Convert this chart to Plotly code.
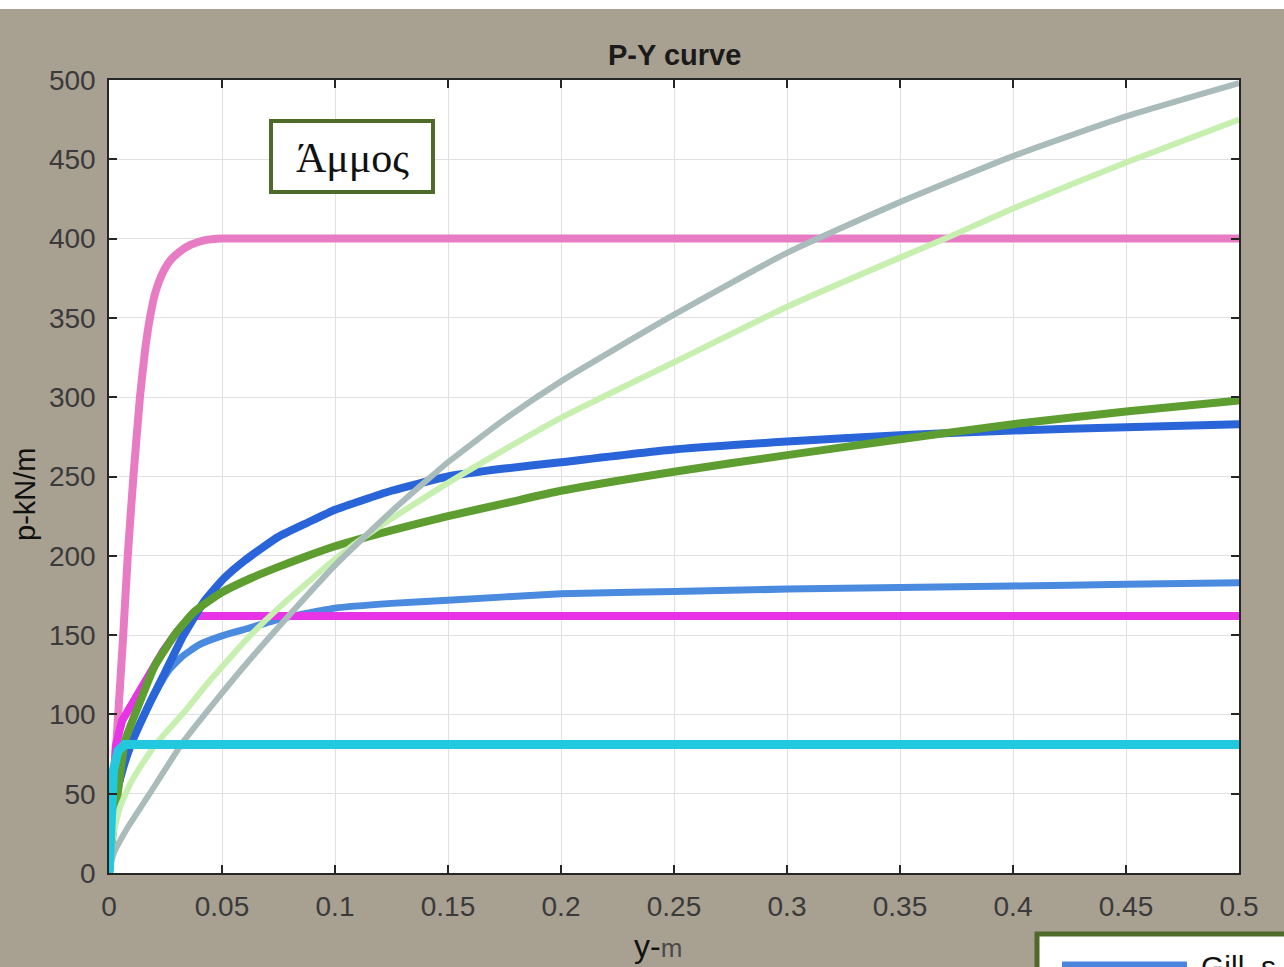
import plotly.graph_objects as go

# ---- p-y curves: displacement y (m) and soil resistance p (kN/m) ----
pink_y = [0, 0.0015, 0.0034, 0.0063, 0.0083, 0.0108, 0.0137, 0.0160, 0.0181, 0.0205,
          0.0233, 0.0270, 0.0306, 0.0360, 0.0425, 0.05, 0.07, 0.1, 0.2, 0.3, 0.4, 0.5]
pink_p = [0, 40, 85, 150, 200, 250, 300, 330, 350, 366,
          377, 386, 391, 396, 399, 400, 400, 400, 400, 400, 400, 400]

magenta_y = [0, 0.0015, 0.003, 0.0058, 0.009, 0.013, 0.018, 0.024, 0.030, 0.035, 0.038,
             0.1, 0.2, 0.3, 0.4, 0.5]
magenta_p = [0, 50, 80, 96, 104, 112, 125, 140, 152, 159, 162,
             162, 162, 162, 162, 162]

cyan_y = [0, 0.0008, 0.002, 0.004, 0.007, 0.1, 0.2, 0.3, 0.4, 0.5]
cyan_p = [0, 40, 65, 77, 81, 81, 81, 81, 81, 81]

darkblue_y = [0, 0.0027, 0.006, 0.010, 0.018, 0.025, 0.033, 0.0425, 0.051, 0.06, 0.075,
              0.088, 0.1, 0.125, 0.15, 0.175, 0.2, 0.25, 0.3, 0.35, 0.4, 0.45, 0.5]
darkblue_p = [0, 45, 65, 82, 107, 127, 150, 172, 186, 197, 212,
              221, 229, 241, 250, 255, 259, 267, 272, 276, 279, 281, 283]

lightblue_y = [0, 0.0027, 0.006, 0.010, 0.018, 0.026, 0.032, 0.04, 0.051, 0.061, 0.075,
               0.1, 0.125, 0.15, 0.2, 0.25, 0.3, 0.35, 0.4, 0.45, 0.5]
lightblue_p = [0, 45, 65, 82, 107, 127, 136, 144, 150, 154, 160,
               167, 170, 172, 176, 177.5, 179, 180, 181, 182, 183]

green_y = [0, 0.002, 0.0035, 0.0071, 0.014, 0.0204, 0.03, 0.038, 0.05, 0.063, 0.075, 0.088,
           0.1, 0.125, 0.15, 0.175, 0.2, 0.25, 0.3, 0.35, 0.4, 0.45, 0.5]
green_p = [0, 30, 46, 83, 109, 131, 152, 165, 177, 186, 193, 200,
           206, 216, 225, 233, 241, 253, 263.5, 273.5, 283, 291, 298]

lightgreen_y = [0, 0.002, 0.005, 0.01, 0.02, 0.033, 0.045, 0.055, 0.062, 0.075, 0.1,
                0.117, 0.15, 0.175, 0.2, 0.25, 0.3, 0.35, 0.37, 0.4, 0.45, 0.5]
lightgreen_p = [0, 25, 42, 58, 80, 101, 122, 138, 149, 167, 198,
                216, 246, 267, 287, 322, 357, 388, 400, 419, 448, 475]

gray_y = [0, 0.002, 0.008, 0.018, 0.033, 0.048, 0.062, 0.08, 0.1, 0.125, 0.15,
          0.175, 0.2, 0.25, 0.3, 0.35, 0.4, 0.45, 0.5]
gray_p = [0, 12, 28, 50, 83, 110, 134, 163, 194, 228, 259,
          286, 310, 352, 391, 423, 452, 477, 498]

x_ticks = [0, 0.05, 0.1, 0.15, 0.2, 0.25, 0.3, 0.35, 0.4, 0.45, 0.5]
x_tick_text = ["0", "0.05", "0.1", "0.15", "0.2", "0.25", "0.3", "0.35", "0.4", "0.45", "0.5"]
y_ticks = [0, 50, 100, 150, 200, 250, 300, 350, 400, 450, 500]
y_tick_text = [str(v) for v in y_ticks]

# ---- page geometry (pixels) ----
W, H = 1284, 967
L, R, T, B = 109, 1239, 80, 873


def px_x(px):
    return (px - L) / (R - L)


def px_y(py):
    return (B - py) / (B - T)


series = [
    (lightblue_y, lightblue_p, "#4A8BE0", 7, "spline"),
    (pink_y, pink_p, "#E87CC4", 8, "spline"),
    (magenta_y, magenta_p, "#E634E6", 8, "linear"),
    (darkblue_y, darkblue_p, "#2964D8", 8, "spline"),
    (green_y, green_p, "#5E9E30", 8, "spline"),
    (lightgreen_y, lightgreen_p, "#C6EFB0", 6, "spline"),
    (gray_y, gray_p, "#A9BBBA", 6, "spline"),
    (cyan_y, cyan_p, "#22C8DE", 9, "linear"),
]

fig = go.Figure()
for xs, ps, color, width, shape in series:
    line = dict(color=color, width=width, shape=shape)
    if shape == "spline":
        line["smoothing"] = 0.5
    fig.add_trace(go.Scatter(x=xs, y=ps, mode="lines", line=line,
                             showlegend=False, hoverinfo="skip"))

axis_common = dict(
    showline=True, linecolor="#262626", linewidth=1.5, mirror="allticks",
    ticks="inside", ticklen=8, tickwidth=1.5, tickcolor="#262626",
    showgrid=True, gridcolor="#E0E0E0", gridwidth=1, zeroline=False,
    tickfont=dict(family="Liberation Sans, Arial, sans-serif", size=28, color="#3A3A3A"),
)

fig.update_xaxes(range=[0, 0.5], tickvals=x_ticks, ticktext=x_tick_text,
                 ticklabelstandoff=8, **axis_common)
fig.update_yaxes(range=[0, 500], tickvals=y_ticks, ticktext=y_tick_text,
                 ticklabelstandoff=6, **axis_common)

shapes = [
    # white strip along the top of the page
    dict(type="rect", xref="paper", yref="paper", x0=px_x(0), x1=px_x(W),
         y0=px_y(9), y1=px_y(-5), fillcolor="white", line=dict(width=0), layer="above"),
    # soil-type label box
    dict(type="rect", xref="paper", yref="paper", x0=px_x(271), x1=px_x(433),
         y0=px_y(192), y1=px_y(121), fillcolor="white",
         line=dict(color="#4E6B2A", width=4), layer="above"),
    # legend box
    dict(type="rect", xref="paper", yref="paper", x0=px_x(1037), x1=px_x(1310),
         y0=px_y(1000), y1=px_y(934), fillcolor="white",
         line=dict(color="#4E6B2A", width=5), layer="above"),
    dict(type="line", xref="paper", yref="paper", x0=px_x(1062), x1=px_x(1187),
         y0=px_y(966), y1=px_y(966), line=dict(color="#4A86DD", width=9), layer="above"),
]

annotations = [
    dict(text="<b>P-Y curve</b>", x=px_x(674), y=px_y(55), xref="paper", yref="paper",
         showarrow=False, xanchor="center", yanchor="middle",
         font=dict(family="Liberation Sans, Arial, sans-serif", size=29, color="#1A1A1A")),
    dict(text="p-kN/m", x=px_x(25), y=px_y(495), xref="paper", yref="paper",
         showarrow=False, textangle=-90, xanchor="center", yanchor="middle",
         font=dict(family="Liberation Sans, Arial, sans-serif", size=29, color="#111111")),
    dict(text="y-<span style='font-size:26px;color:#4A4A4A'>m</span>",
         x=px_x(658), y=px_y(946), xref="paper", yref="paper",
         showarrow=False, xanchor="center", yanchor="middle",
         font=dict(family="Liberation Sans, Arial, sans-serif", size=32, color="#111111")),
    dict(text="Άμμος", x=px_x(352), y=px_y(158), xref="paper", yref="paper",
         showarrow=False, xanchor="center", yanchor="middle",
         font=dict(family="Liberation Serif, Times New Roman, serif", size=42, color="#111111")),
    dict(text="Gill_s", x=px_x(1199), y=px_y(966), xref="paper", yref="paper",
         showarrow=False, xanchor="left", yanchor="middle",
         font=dict(family="Liberation Sans, Arial, sans-serif", size=30, color="#111111")),
]

fig.update_layout(
    width=W, height=H,
    margin=dict(l=L, r=W - R, t=T, b=H - B),
    paper_bgcolor="#A8A091",
    plot_bgcolor="white",
    shapes=shapes,
    annotations=annotations,
    showlegend=False,
)

fig.write_html("out.html")
